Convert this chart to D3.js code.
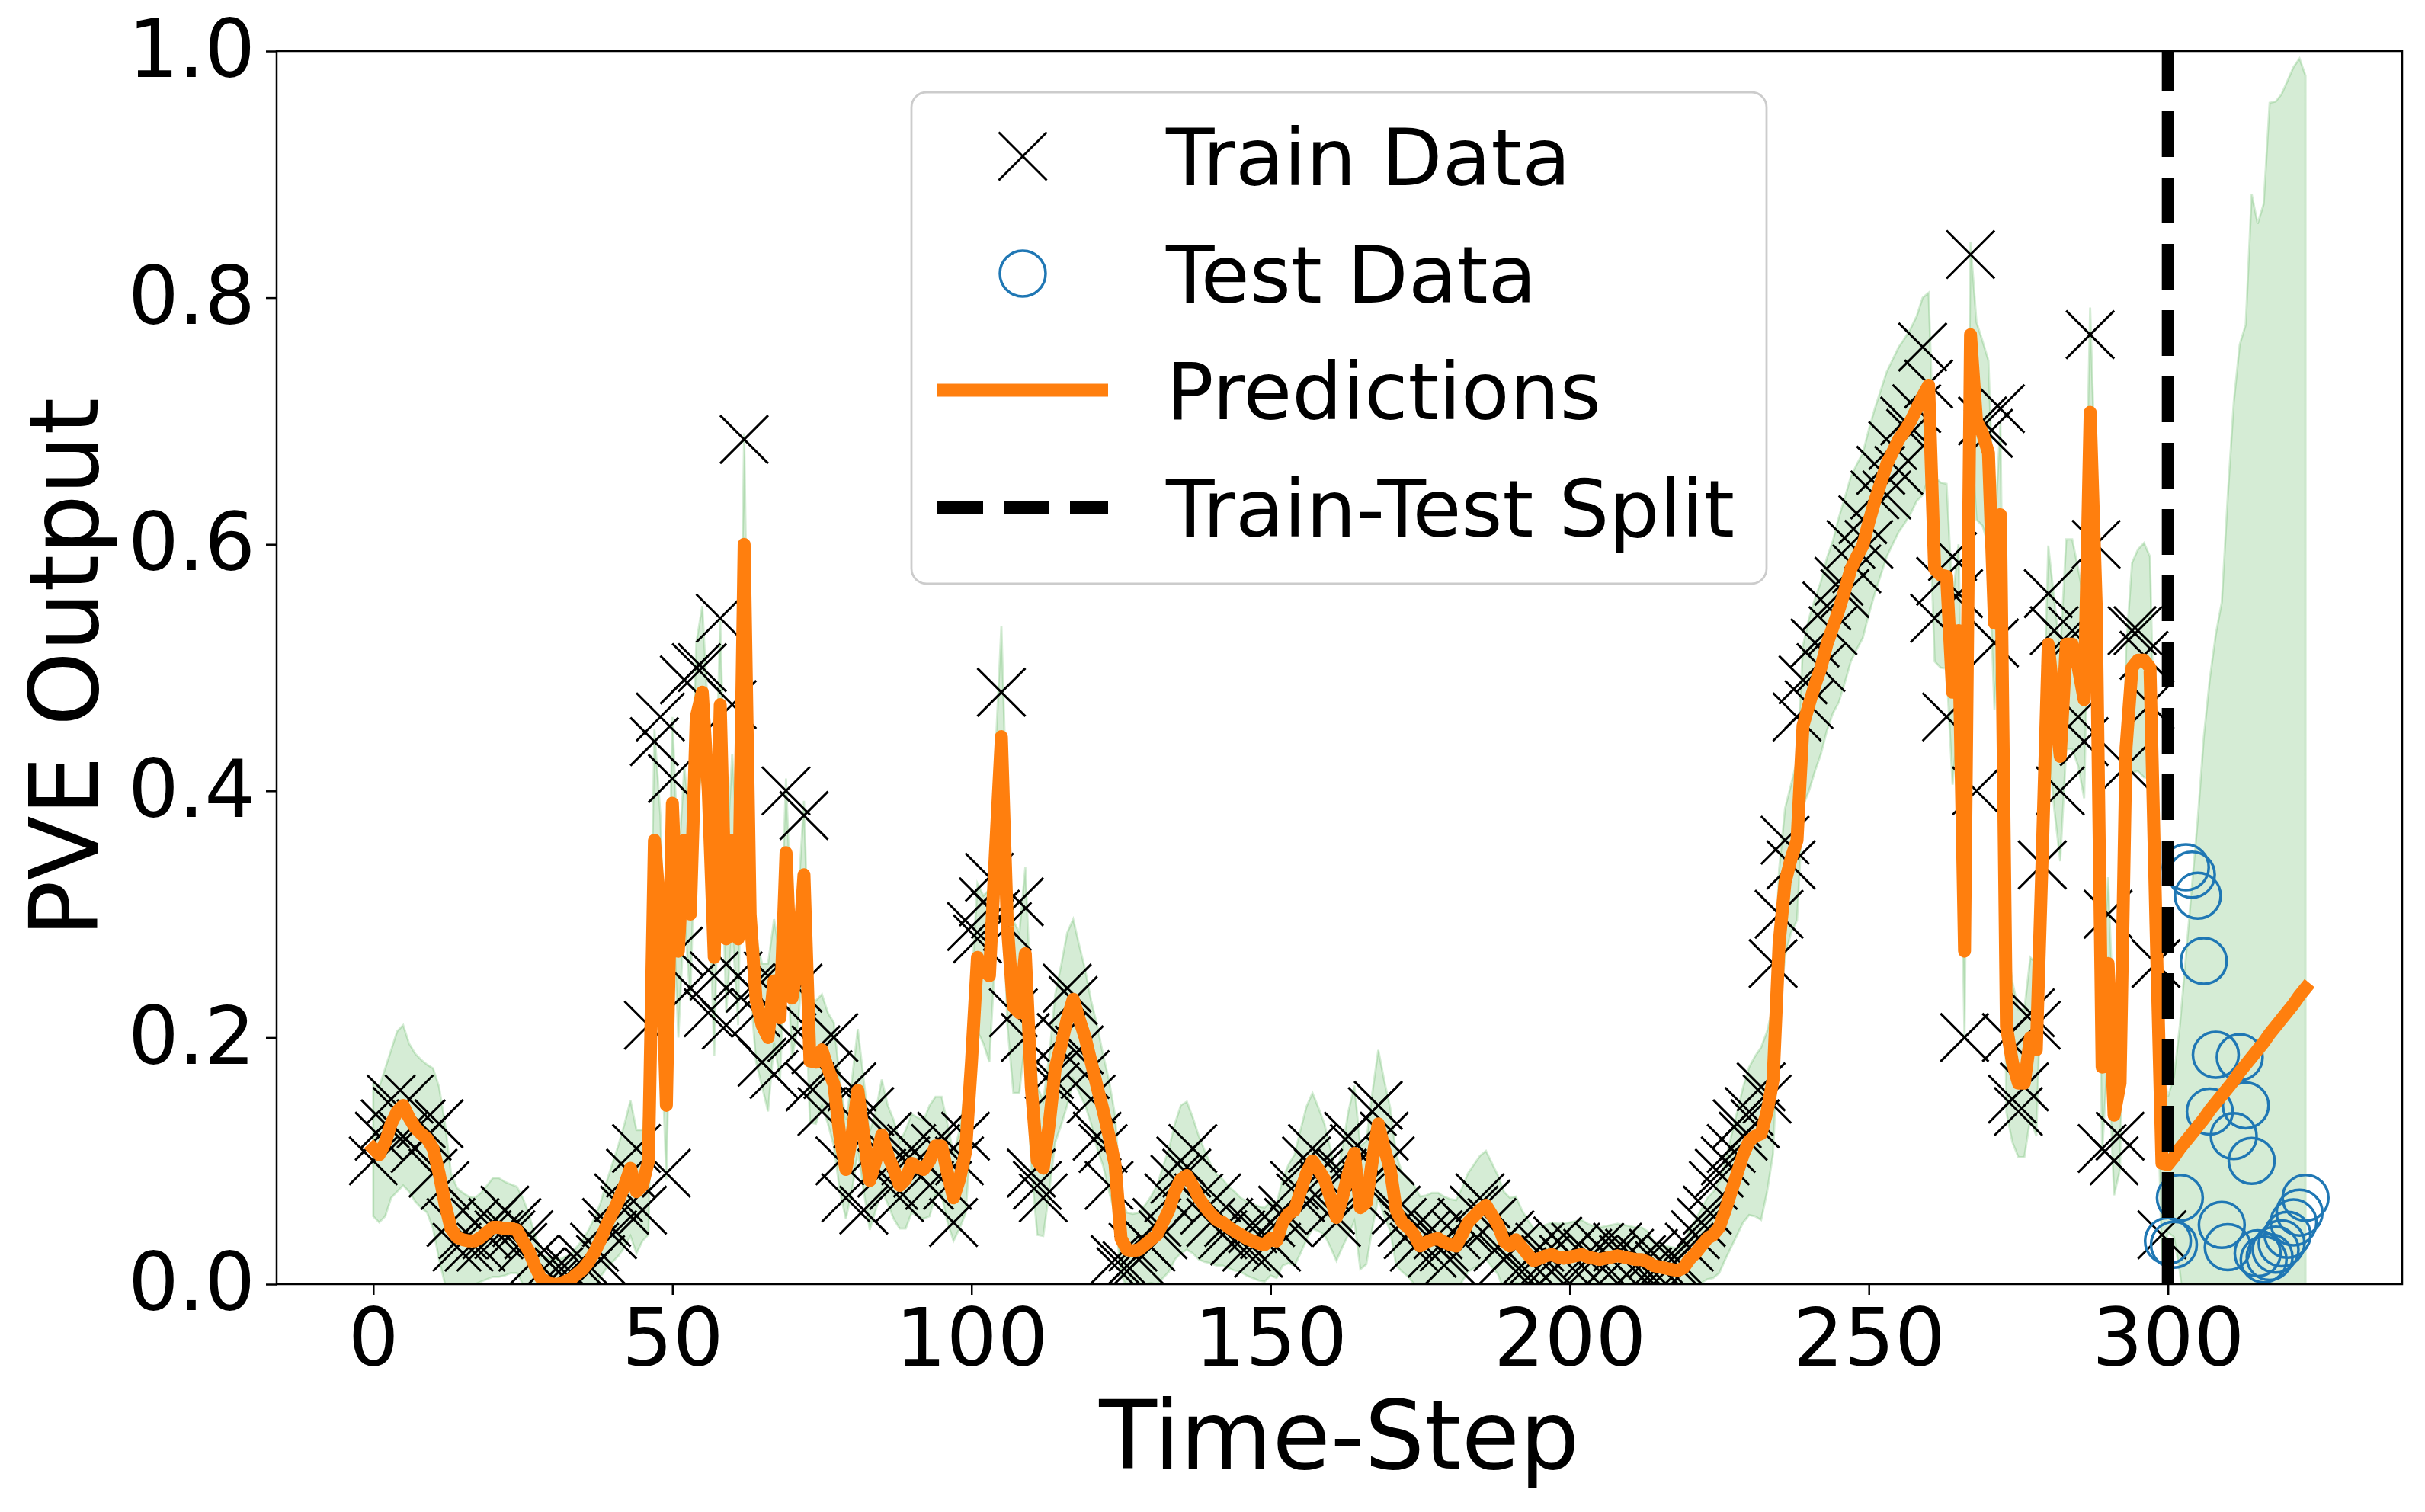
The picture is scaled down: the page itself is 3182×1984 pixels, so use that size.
<!DOCTYPE html>
<html>
<head>
<meta charset="utf-8">
<script src="https://d3js.org/d3.v7.min.js"></script>
<style>
  html, body { margin: 0; padding: 0; background: #fff; }
  svg { display: block; font-family: "DejaVu Sans", sans-serif; }
</style>
</head>
<body>
<svg id="chart" width="3182" height="1984"></svg>
<script>
// --- DATA ---
// train observations, time-steps 0..299
const trainY = [
  0.10, 0.12, 0.13, 0.15, 0.14, 0.12, 0.15, 0.11, 0.13, 0.12,   // 0
  0.09, 0.13, 0.08, 0.05, 0.03, 0.04, 0.03, 0.05, 0.03, 0.04,   // 10
  0.05, 0.04, 0.06, 0.04, 0.05, 0.03, 0.04, 0.02, 0.01, 0.005,  // 20
  0.0, 0.01, 0.005, 0.01, 0.0, 0.02, 0.01, 0.03, 0.02, 0.05,    // 30
  0.04, 0.07, 0.06, 0.09, 0.11, 0.06, 0.21, 0.44, 0.46, 0.09,   // 40
  0.41, 0.27, 0.49, 0.24, 0.50, 0.50, 0.22, 0.25, 0.54, 0.21,   // 50
  0.47, 0.25, 0.685, 0.24, 0.22, 0.18, 0.25, 0.17, 0.23, 0.40,  // 60
  0.20, 0.24, 0.38, 0.16, 0.19, 0.14, 0.17, 0.20, 0.10, 0.07,   // 70
  0.16, 0.13, 0.06, 0.14, 0.11, 0.09, 0.12, 0.08, 0.07, 0.10,   // 80
  0.11, 0.09, 0.10, 0.08, 0.11, 0.12, 0.08, 0.05, 0.10, 0.12,   // 90
  0.29, 0.28, 0.31, 0.33, 0.30, 0.48, 0.29, 0.22, 0.31, 0.20,   // 100
  0.09, 0.08, 0.07, 0.17, 0.16, 0.20, 0.24, 0.23, 0.19, 0.17,   // 110
  0.15, 0.12, 0.11, 0.08, 0.02, 0.01, 0.015, 0.03, 0.02, 0.035, // 120
  0.03, 0.05, 0.04, 0.07, 0.085, 0.10, 0.09, 0.11, 0.07, 0.06,  // 130
  0.05, 0.07, 0.04, 0.05, 0.035, 0.04, 0.03, 0.045, 0.025, 0.04,// 140
  0.05, 0.03, 0.06, 0.05, 0.08, 0.07, 0.10, 0.11, 0.09, 0.08,   // 150
  0.06, 0.05, 0.09, 0.12, 0.11, 0.07, 0.08, 0.14, 0.145, 0.12,  // 160
  0.10, 0.06, 0.05, 0.04, 0.03, 0.05, 0.04, 0.025, 0.04, 0.03,  // 170
  0.02, 0.04, 0.05, 0.045, 0.06, 0.07, 0.065, 0.05, 0.03, 0.02, // 180
  0.04, 0.03, 0.01, 0.02, 0.005, 0.03, 0.02, 0.01, 0.035, 0.02, // 190
  0.025, 0.03, 0.015, 0.025, 0.02, 0.03, 0.015, 0.02, 0.03, 0.02,   // 200
  0.025, 0.015, 0.02, 0.01, 0.025, 0.015, 0.01, 0.02, 0.005, 0.015, // 210
  0.03, 0.04, 0.05, 0.06, 0.08, 0.09, 0.10, 0.11, 0.13, 0.12,   // 220
  0.14, 0.13, 0.16, 0.15, 0.26, 0.30, 0.36, 0.34, 0.46, 0.49,   // 230
  0.47, 0.52, 0.50, 0.55, 0.53, 0.57, 0.56, 0.60, 0.58, 0.62,   // 240
  0.60, 0.64, 0.66, 0.64, 0.68, 0.66, 0.70, 0.69, 0.71, 0.76,   // 250
  0.73, 0.54, 0.57, 0.46, 0.59, 0.56, 0.20, 0.835, 0.40, 0.70,  // 260
  0.69, 0.52, 0.71, 0.20, 0.15, 0.14, 0.16, 0.22, 0.21, 0.34,   // 270
  0.56, 0.53, 0.40, 0.52, 0.53, 0.46, 0.44, 0.77, 0.60, 0.11,   // 280
  0.30, 0.10, 0.12, 0.42, 0.53, 0.53, 0.51, 0.47, 0.26, 0.04    // 290
];

// test observations, time-steps 300..323
const testY = [
  0.035, 0.032, 0.07, 0.338, 0.332, 0.315, 0.262, 0.14, 0.186, 0.048,
  0.03, 0.12, 0.184, 0.145, 0.1, 0.025, 0.02, 0.022, 0.028, 0.033,
  0.04, 0.05, 0.058, 0.07
];

// predicted mean, time-steps 0..323
const predY = [
  0.11, 0.105, 0.115, 0.13, 0.14, 0.145, 0.135, 0.127, 0.122, 0.118,   // 0
  0.11, 0.09, 0.065, 0.045, 0.038, 0.036, 0.035, 0.035, 0.038, 0.042,  // 10
  0.046, 0.046, 0.045, 0.045, 0.044, 0.035, 0.027, 0.015, 0.005, 0.002,// 20
  0.0, 0.0, 0.002, 0.004, 0.008, 0.012, 0.018, 0.026, 0.036, 0.048,    // 30
  0.058, 0.068, 0.08, 0.094, 0.075, 0.08, 0.10, 0.36, 0.30, 0.145,     // 40
  0.39, 0.27, 0.36, 0.30, 0.46, 0.48, 0.40, 0.265, 0.47, 0.28,         // 50
  0.36, 0.28, 0.60, 0.30, 0.23, 0.21, 0.20, 0.246, 0.216, 0.35,        // 60
  0.232, 0.26, 0.332, 0.181, 0.18, 0.19, 0.175, 0.162, 0.12, 0.093,    // 70
  0.12, 0.157, 0.12, 0.084, 0.10, 0.121, 0.105, 0.093, 0.08, 0.085,    // 80
  0.098, 0.095, 0.093, 0.10, 0.112, 0.112, 0.09, 0.07, 0.085, 0.107,   // 90
  0.18, 0.265, 0.255, 0.25, 0.35, 0.444, 0.29, 0.225, 0.22, 0.268,     // 100
  0.16, 0.10, 0.094, 0.13, 0.175, 0.194, 0.215, 0.231, 0.215, 0.20,    // 110
  0.18, 0.16, 0.141, 0.12, 0.097, 0.037, 0.028, 0.027, 0.028, 0.032,   // 120
  0.036, 0.04, 0.05, 0.06, 0.075, 0.085, 0.088, 0.08, 0.07, 0.063,     // 130
  0.057, 0.052, 0.05, 0.046, 0.043, 0.04, 0.037, 0.035, 0.033, 0.032,  // 140
  0.037, 0.035, 0.05, 0.057, 0.06, 0.075, 0.09, 0.10, 0.093, 0.085,    // 150
  0.07, 0.054, 0.07, 0.09, 0.106, 0.062, 0.066, 0.10, 0.13, 0.11,      // 160
  0.093, 0.06, 0.05, 0.046, 0.04, 0.031, 0.034, 0.036, 0.037, 0.034,   // 170
  0.032, 0.031, 0.04, 0.05, 0.055, 0.06, 0.064, 0.056, 0.048, 0.035,   // 180
  0.031, 0.036, 0.03, 0.024, 0.019, 0.021, 0.023, 0.024, 0.022, 0.021, // 190
  0.022, 0.023, 0.024, 0.022, 0.021, 0.02, 0.021, 0.022, 0.023, 0.022, // 200
  0.021, 0.02, 0.02, 0.018, 0.015, 0.014, 0.013, 0.012, 0.011, 0.013,  // 210
  0.02, 0.025, 0.031, 0.037, 0.04, 0.046, 0.06, 0.075, 0.09, 0.105,    // 220
  0.116, 0.12, 0.122, 0.14, 0.166, 0.276, 0.326, 0.345, 0.36, 0.453,   // 230
  0.47, 0.486, 0.50, 0.519, 0.533, 0.547, 0.563, 0.58, 0.59, 0.599,    // 240
  0.618, 0.635, 0.65, 0.665, 0.675, 0.685, 0.692, 0.70, 0.71, 0.72,    // 250
  0.729, 0.58, 0.575, 0.574, 0.48, 0.53, 0.27, 0.77, 0.70, 0.69,       // 260
  0.674, 0.536, 0.624, 0.209, 0.18, 0.163, 0.163, 0.20, 0.19, 0.35,    // 270
  0.519, 0.47, 0.428, 0.519, 0.519, 0.50, 0.474, 0.707, 0.552, 0.176,  // 280
  0.26, 0.137, 0.163, 0.435, 0.50, 0.506, 0.506, 0.50, 0.292, 0.098,   // 290
  0.097, 0.103, 0.11, 0.116, 0.122, 0.128, 0.134, 0.141, 0.147, 0.153, // 300
  0.159, 0.165, 0.172, 0.178, 0.184, 0.19, 0.196, 0.203, 0.209, 0.215, // 310
  0.221, 0.227, 0.234, 0.24                                            // 320
];

// half width of the uncertainty band, time-steps 0..323
const bandHalf = [
  0.055, 0.055, 0.06, 0.06, 0.065, 0.065, 0.06, 0.06, 0.06, 0.06,       // 0
  0.065, 0.07, 0.065, 0.045, 0.04, 0.038, 0.036, 0.035, 0.036, 0.038,   // 10
  0.04, 0.04, 0.038, 0.036, 0.035, 0.035, 0.03, 0.025, 0.02, 0.02,      // 20
  0.02, 0.02, 0.02, 0.02, 0.022, 0.024, 0.026, 0.028, 0.03, 0.035,      // 30
  0.04, 0.045, 0.05, 0.055, 0.05, 0.045, 0.06, 0.09, 0.08, 0.06,        // 40
  0.07, 0.07, 0.06, 0.07, 0.06, 0.07, 0.06, 0.08, 0.07, 0.06,           // 50
  0.07, 0.07, 0.09, 0.06, 0.05, 0.05, 0.06, 0.05, 0.05, 0.06,           // 60
  0.05, 0.05, 0.06, 0.05, 0.05, 0.045, 0.045, 0.05, 0.045, 0.04,        // 70
  0.045, 0.05, 0.045, 0.04, 0.04, 0.045, 0.04, 0.04, 0.035, 0.04,       // 80
  0.04, 0.04, 0.04, 0.045, 0.04, 0.04, 0.04, 0.035, 0.04, 0.05,         // 90
  0.06, 0.06, 0.06, 0.07, 0.08, 0.09, 0.08, 0.07, 0.065, 0.07,          // 100
  0.065, 0.06, 0.055, 0.055, 0.06, 0.065, 0.07, 0.065, 0.06, 0.055,     // 110
  0.05, 0.05, 0.045, 0.045, 0.04, 0.03, 0.03, 0.03, 0.03, 0.032,        // 120
  0.035, 0.04, 0.045, 0.05, 0.055, 0.06, 0.06, 0.055, 0.05, 0.045,      // 130
  0.04, 0.037, 0.035, 0.033, 0.032, 0.03, 0.03, 0.03, 0.03, 0.03,       // 140
  0.03, 0.03, 0.035, 0.04, 0.045, 0.05, 0.054, 0.055, 0.05, 0.045,      // 150
  0.04, 0.035, 0.04, 0.05, 0.055, 0.05, 0.05, 0.055, 0.06, 0.055,       // 160
  0.05, 0.045, 0.04, 0.04, 0.04, 0.04, 0.038, 0.038, 0.037, 0.037,      // 170
  0.037, 0.037, 0.038, 0.04, 0.042, 0.044, 0.044, 0.042, 0.04, 0.04,    // 180
  0.039, 0.035, 0.03, 0.028, 0.026, 0.025, 0.025, 0.026, 0.027, 0.028,  // 190
  0.028, 0.028, 0.028, 0.027, 0.026, 0.026, 0.026, 0.026, 0.026, 0.026, // 200
  0.026, 0.026, 0.026, 0.025, 0.02, 0.018, 0.018, 0.018, 0.018, 0.02,   // 210
  0.024, 0.027, 0.03, 0.033, 0.035, 0.037, 0.04, 0.045, 0.05, 0.055,    // 220
  0.06, 0.065, 0.07, 0.065, 0.06, 0.06, 0.06, 0.06, 0.065, 0.065,       // 230
  0.07, 0.07, 0.07, 0.07, 0.07, 0.075, 0.075, 0.075, 0.075, 0.075,      // 240
  0.075, 0.075, 0.075, 0.075, 0.075, 0.075, 0.075, 0.075, 0.075, 0.08,  // 250
  0.075, 0.075, 0.075, 0.075, 0.075, 0.07, 0.07, 0.075, 0.08, 0.075,    // 260
  0.075, 0.07, 0.075, 0.07, 0.065, 0.06, 0.06, 0.065, 0.07, 0.075,      // 270
  0.08, 0.085, 0.085, 0.085, 0.085, 0.08, 0.08, 0.085, 0.08, 0.07,      // 280
  0.07, 0.065, 0.07, 0.08, 0.085, 0.09, 0.095, 0.09, 0.085, 0.08,       // 290
  0.055, 0.065, 0.10, 0.15, 0.20, 0.25, 0.31, 0.35, 0.38, 0.40,         // 300
  0.48, 0.55, 0.59, 0.60, 0.70, 0.67, 0.68, 0.755, 0.75, 0.75,          // 310
  0.755, 0.76, 0.76, 0.74                                               // 320
];

const splitStep = 300;
const xTickValues = [0, 50, 100, 150, 200, 250, 300];
const yTickValues = [0.0, 0.2, 0.4, 0.6, 0.8, 1.0];
const legendLabels = ["Train Data", "Test Data", "Predictions", "Train-Test Split"];

// --- LAYOUT ---
const width = 3182, height = 1984;
const marginTop = 67, marginRight = 30, marginBottom = 299, marginLeft = 363;
const COLORS = { train: "#000000", test: "#1f77b4", pred: "#ff7f0e", band: "#2ca02c" };
const tickFont = 105, legendFont = 104, labelFont = 124;

const svg = d3.select("#chart");
svg.selectAll("*").remove();

const x = d3.scaleLinear()
    .domain([-16.15, 339.15])
    .range([marginLeft, width - marginRight]);

const y = d3.scaleLinear()
    .domain([0, 1])
    .range([height - marginBottom, marginTop]);

svg.append("defs").append("clipPath").attr("id", "plot-clip")
  .append("rect")
    .attr("x", marginLeft).attr("y", marginTop)
    .attr("width", width - marginLeft - marginRight)
    .attr("height", height - marginTop - marginBottom);

const plot = svg.append("g").attr("clip-path", "url(#plot-clip)");

// uncertainty band
const bandData = predY.map((p, i) => ({ t: i, lo: p - bandHalf[i], hi: p + bandHalf[i] }));
plot.append("path")
    .datum(bandData)
    .attr("fill", COLORS.band).attr("fill-opacity", 0.2)
    .attr("stroke", COLORS.band).attr("stroke-opacity", 0.2).attr("stroke-width", 2.8)
    .attr("d", d3.area().x(d => x(d.t)).y0(d => y(d.lo)).y1(d => y(d.hi)));

// train markers (x)
const xMark = 31.5;
const crossPath = `M${-xMark},${-xMark}L${xMark},${xMark}M${-xMark},${xMark}L${xMark},${-xMark}`;
plot.append("g")
    .attr("fill", "none").attr("stroke", COLORS.train).attr("stroke-width", 3)
  .selectAll("path")
  .data(trainY)
  .join("path")
    .attr("transform", (d, i) => `translate(${x(i)},${y(d)})`)
    .attr("d", crossPath);

// test markers (open circles)
plot.append("g")
    .attr("fill", "none").attr("stroke", COLORS.test).attr("stroke-width", 3.5)
  .selectAll("circle")
  .data(testY)
  .join("circle")
    .attr("cx", (d, i) => x(splitStep + i))
    .attr("cy", d => y(d))
    .attr("r", 30);

// predictions
plot.append("path")
    .datum(predY)
    .attr("fill", "none").attr("stroke", COLORS.pred).attr("stroke-width", 17)
    .attr("stroke-linejoin", "round").attr("stroke-linecap", "square")
    .attr("d", d3.line().x((d, i) => x(i)).y(d => y(d)));

// train-test split
plot.append("line")
    .attr("x1", x(splitStep)).attr("x2", x(splitStep))
    .attr("y1", y(0)).attr("y2", y(1))
    .attr("stroke", "#000").attr("stroke-width", 16)
    .attr("stroke-dasharray", "60,27");

// --- AXES ---
const xAxis = svg.append("g")
    .attr("transform", `translate(0,${height - marginBottom})`)
    .call(d3.axisBottom(x).tickValues(xTickValues).tickSize(14).tickPadding(18).tickFormat(d3.format("d")));
const yAxis = svg.append("g")
    .attr("transform", `translate(${marginLeft},0)`)
    .call(d3.axisLeft(y).tickValues(yTickValues).tickSize(14).tickPadding(14).tickFormat(d3.format(".1f")));

[xAxis, yAxis].forEach(g => {
  g.select(".domain").remove();
  g.selectAll(".tick line").attr("stroke", "#000").attr("stroke-width", 2.5);
  g.selectAll(".tick text")
    .attr("fill", "#000")
    .style("font-family", '"DejaVu Sans", sans-serif')
    .style("font-size", tickFont + "px");
});

// frame
svg.append("rect")
    .attr("x", marginLeft).attr("y", marginTop)
    .attr("width", width - marginLeft - marginRight)
    .attr("height", height - marginTop - marginBottom)
    .attr("fill", "none").attr("stroke", "#000").attr("stroke-width", 2.5);

// axis labels
svg.append("text")
    .attr("x", (marginLeft + width - marginRight) / 2)
    .attr("y", 1927)
    .attr("text-anchor", "middle")
    .style("font-size", labelFont + "px")
    .text("Time-Step");

svg.append("text")
    .attr("transform", `translate(128,${(marginTop + height - marginBottom) / 2}) rotate(-90)`)
    .attr("text-anchor", "middle")
    .style("font-size", labelFont + "px")
    .text("PVE Output");

// --- LEGEND ---
const legend = svg.append("g").attr("transform", "translate(1196,121)");
legend.append("rect")
    .attr("width", 1122).attr("height", 645)
    .attr("rx", 20).attr("ry", 20)
    .attr("fill", "#fff").attr("fill-opacity", 0.8)
    .attr("stroke", "#cccccc").attr("stroke-width", 2.8);

const rowY = [84, 238, 391, 545];
const handleX = 146;

legend.append("path")
    .attr("transform", `translate(${handleX},${rowY[0]})`)
    .attr("d", crossPath)
    .attr("fill", "none").attr("stroke", COLORS.train).attr("stroke-width", 3);

legend.append("circle")
    .attr("cx", handleX).attr("cy", rowY[1]).attr("r", 30)
    .attr("fill", "none").attr("stroke", COLORS.test).attr("stroke-width", 3.5);

legend.append("line")
    .attr("x1", 34).attr("x2", 258).attr("y1", rowY[2]).attr("y2", rowY[2])
    .attr("stroke", COLORS.pred).attr("stroke-width", 17);

legend.append("line")
    .attr("x1", 34).attr("x2", 258).attr("y1", rowY[3]).attr("y2", rowY[3])
    .attr("stroke", "#000").attr("stroke-width", 16)
    .attr("stroke-dasharray", "60,27");

legend.selectAll("text.label")
  .data(legendLabels)
  .join("text")
    .attr("class", "label")
    .attr("x", 334)
    .attr("y", (d, i) => rowY[i] + 38)
    .style("font-size", legendFont + "px")
    .text(d => d);
</script>
</body>
</html>
